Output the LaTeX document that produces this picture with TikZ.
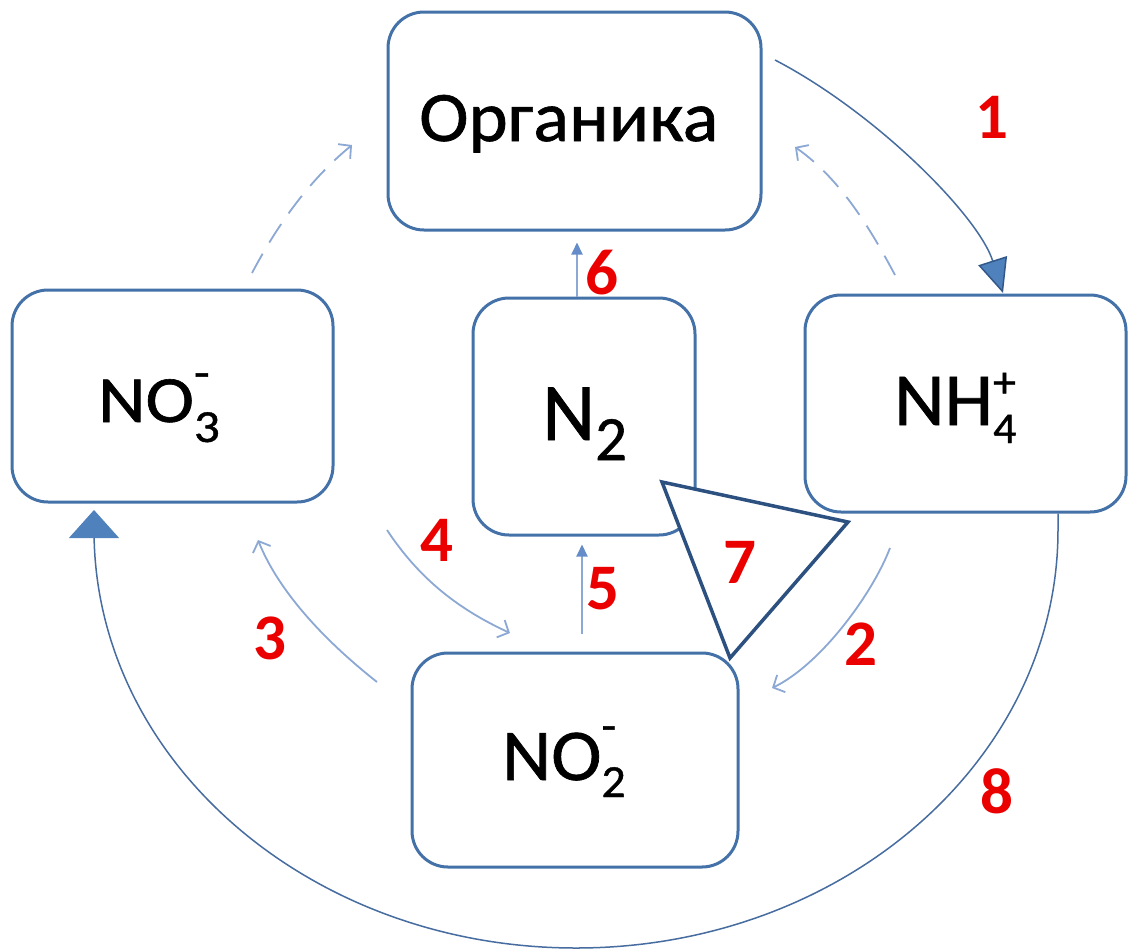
\documentclass[tikz,border=0pt]{standalone}
\usepackage{fontspec}
\usepackage{graphicx}
\setmainfont{Carlito}
\newfontfamily\heavyfont[FakeBold=0.9]{Carlito}
\usetikzlibrary{arrows.meta}
\definecolor{boxblue}{RGB}{68,114,168}
\definecolor{tridark}{RGB}{44,80,128}
\definecolor{lightblue}{RGB}{140,168,212}
\definecolor{midblue}{RGB}{100,140,200}
\definecolor{solidblue}{RGB}{70,108,160}
\definecolor{headfill}{RGB}{79,129,189}
\definecolor{headdraw}{RGB}{50,88,138}
\definecolor{numred}{RGB}{235,0,0}
% #1 size, #2 lowering, #3 raising, #4 subscript, #5 superscript
\newcommand{\chsubsup}[5]{{\fontsize{#1}{#1}\selectfont\rlap{\raisebox{#3}{#5}}\raisebox{-#2}{#4}}}
\begin{document}
\begin{tikzpicture}[x=1pt,y=-1pt,
  box/.style={draw=boxblue, line width=3pt, rounded corners=36pt, fill=white, inner sep=0pt},
  txt/.style={anchor=base west, inner sep=0pt, text=black},
  num/.style={text=numred, font=\fontsize{65}{65}\selectfont\bfseries, inner sep=0pt},
  lightarr/.style={draw=lightblue, line width=1.8pt, -{Straight Barb[length=9pt,width=19pt,line width=1.8pt]}},
  dasharr/.style={lightarr, dash pattern=on 22pt off 13pt},
  smallarr/.style={draw=lightblue, line width=2pt, -{Triangle[length=12pt,width=11pt,fill=midblue,color=midblue]}},
  bigarr/.style={draw=solidblue, line width=1.5pt},
  trihead/.style={draw=tridark, line width=3.5pt, fill=white, line join=miter}
]
\useasboundingbox (0,0) rectangle (1128,951);
\fill[white] (0,0) rectangle (1128,951);

% boxes
\node[box, minimum width=373pt, minimum height=218pt] (org) at (574.5,121) {};
\node[box, minimum width=321pt, minimum height=212pt] (no3) at (172.5,396) {};
\node[box, minimum width=222pt, minimum height=237pt] (n2)  at (584,416.5) {};
\node[box, minimum width=321pt, minimum height=217pt] (nh4) at (965.5,403.5) {};
\node[box, minimum width=326pt, minimum height=214pt] (no2) at (575,760) {};

% texts
\node[txt, font=\heavyfont\fontsize{71}{71}\selectfont] (orgt) at (419,141) {\scalebox{1.05}[1]{Органика}};
\node[txt, font=\heavyfont\fontsize{66}{66}\selectfont] (no3t) at (98,422) {\scalebox{1.11}[1]{NO\chsubsup{46}{20pt}{34pt}{3}{-}}};
\node[txt, font=\heavyfont\fontsize{82}{82}\selectfont] (n2t)  at (542,440) {N\chsubsup{63}{20pt}{0pt}{2}{}};
\node[txt, font=\heavyfont\fontsize{75}{75}\selectfont] (nh4t) at (894,425) {\scalebox{1.04}[1]{NH\chsubsup{44}{18pt}{28pt}{4}{+}}};
\node[txt, font=\heavyfont\fontsize{73}{73}\selectfont] (no2t) at (502,780) {\scalebox{1.04}[1]{NO\chsubsup{46}{17pt}{39pt}{2}{-}}};

% coordinates for free ends
\coordinate (s1) at (775,60);
\coordinate (t1) at (1003,293);
\coordinate (s2) at (890,548);
\coordinate (t2) at (772,688);
\coordinate (s3) at (377,682);
\coordinate (t3) at (258,540);
\coordinate (s4) at (387,530);
\coordinate (t4) at (510,633);
\coordinate (sdl) at (252,273);
\coordinate (tdl) at (352,145);
\coordinate (sdr) at (895,275);
\coordinate (tdr) at (795,147);
\coordinate (t8) at (94,510);

% 1: Органика -> NH4+
\draw[bigarr, -{Triangle[length=34pt,width=30pt,fill=headfill,color=headdraw,line width=1.5pt]}]
  (s1) .. controls (875,112) and (978,215) .. (t1);
% 8: NH4+ -> NO3- (large arc)
\draw[bigarr, -{Triangle[length=28pt,width=50pt,fill=headfill,color=headfill,line width=1pt]}]
  (1058,0 |- nh4.south) -- (1058,530) arc[start angle=0, end angle=180, x radius=482, y radius=418] -- (t8);
% 2: NH4+ -> NO2-
\draw[lightarr] (s2) .. controls (872,595) and (820,665) .. (t2);
% 3: NO2- -> NO3-
\draw[lightarr] (s3) .. controls (330,645) and (280,595) .. (t3);
% 4: NO3- -> NO2-
\draw[lightarr] (s4) .. controls (420,580) and (460,610) .. (t4);
% dashed: NO3- -> Органика, NH4+ -> Органика
\draw[dasharr] (sdl) .. controls (280,220) and (312,178) .. (tdl);
\draw[dasharr] (sdr) .. controls (872,232) and (842,180) .. (tdr);
% 5: NO2- -> N2
\draw[smallarr, shorten <=18pt, shorten >=8pt] (582,0 |- no2.north) -- (582,0 |- n2.south);
% 6: N2 -> Органика
\draw[smallarr, shorten >=11pt] (577,0 |- n2.north) -- (577,0 |- org.south);
% 7: big hollow head
\draw[trihead] (662,482) -- (848,522) -- (730,658) -- cycle;

% numbers
\node[num] (l1) at (992,117) {1};
\node[num] (l2) at (861,644) {2};
\node[num] (l3) at (270,638) {3};
\node[num] (l4) at (437,540) {4};
\node[num] (l5) at (603,589) {5};
\node[num] (l6) at (602,273) {6};
\node[num] (l7) at (740,562) {7};
\node[num] (l8) at (997,791) {8};
\end{tikzpicture}
\end{document}
